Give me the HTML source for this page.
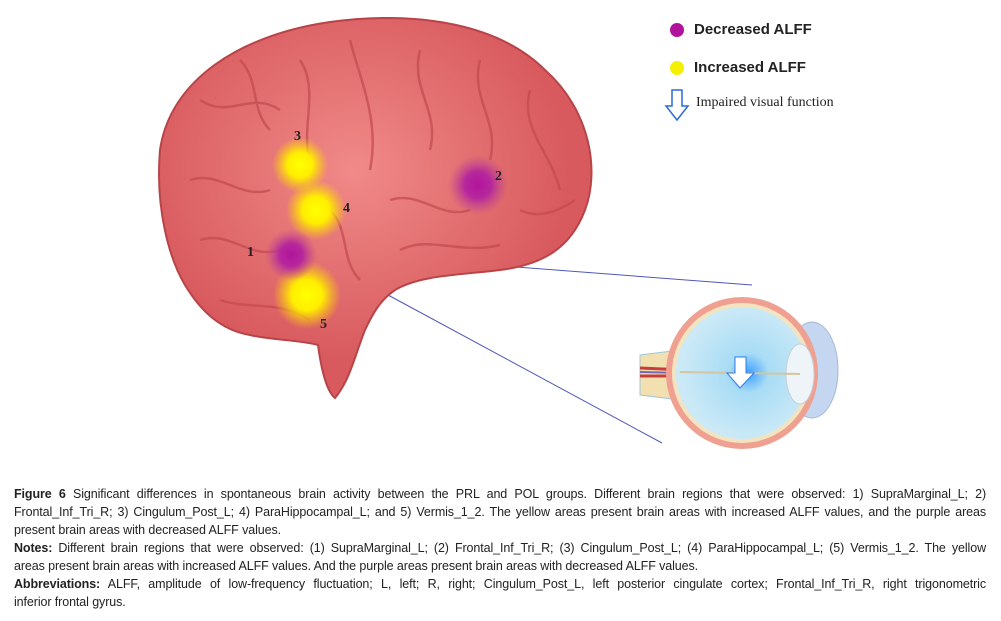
<!DOCTYPE html>
<html><head><meta charset="utf-8"><style>
body{margin:0;width:1001px;height:621px;background:#fff;position:relative;overflow:hidden;font-family:"Liberation Sans",sans-serif}
.cap{position:absolute;left:14px;width:972px;font-size:12.5px;line-height:18px;color:#222;letter-spacing:-0.1px}
.cap div{white-space:nowrap;text-align:justify;text-align-last:justify}
.cap div.l{text-align-last:left}
.lg{position:absolute;font-weight:bold;font-size:15px;color:#222}
</style></head><body>
<svg width="1001" height="480" style="position:absolute;left:0;top:0">
<defs>
<radialGradient id="y"><stop offset="0" stop-color="#ffff00"/><stop offset=".45" stop-color="#ffee00"/><stop offset="1" stop-color="#ffd400" stop-opacity="0"/></radialGradient>
<radialGradient id="p"><stop offset="0" stop-color="#b0149c"/><stop offset=".45" stop-color="#b7289c"/><stop offset="1" stop-color="#c04890" stop-opacity="0"/></radialGradient>
<radialGradient id="eye" cx=".55" cy=".5"><stop offset="0" stop-color="#3ea0ff"/><stop offset=".3" stop-color="#a8dcf5"/><stop offset="1" stop-color="#cbe9f6"/></radialGradient>
<radialGradient id="br" cx=".45" cy=".4"><stop offset="0" stop-color="#f08a88"/><stop offset="1" stop-color="#d85a5e"/></radialGradient>
</defs>
<line x1="490" y1="265" x2="752" y2="285" stroke="#5058b8" stroke-width="1"/>
<line x1="388" y1="295" x2="662" y2="443" stroke="#5058b8" stroke-width="1"/>
<path d="M160,150 C170,80 240,35 330,22 C420,10 500,25 545,70 C590,110 600,170 585,210 C570,250 540,265 500,270 C460,275 420,275 395,290 C380,300 372,315 365,330 C355,355 350,380 335,398 C325,390 320,360 318,345 C300,340 270,340 250,335 C220,330 200,310 185,285 C170,260 155,210 160,150 Z" fill="url(#br)" stroke="#b84448" stroke-width="2"/>
<g fill="none" stroke="#c24a50" stroke-width="2.5" opacity=".7">
<path d="M200,100 C230,120 250,90 280,110"/><path d="M300,60 C320,90 300,130 310,160"/><path d="M350,40 C360,80 380,120 370,170"/>
<path d="M420,50 C410,90 440,110 430,150"/><path d="M480,60 C470,100 500,120 490,160"/><path d="M530,90 C520,130 550,150 560,190"/>
<path d="M190,180 C220,170 240,200 270,190"/><path d="M200,240 C230,230 250,260 280,250"/><path d="M390,200 C420,190 440,220 470,210"/>
<path d="M400,250 C430,235 460,255 500,245"/><path d="M240,60 C260,80 250,110 270,130"/><path d="M330,210 C350,230 340,260 360,280"/>
<path d="M220,300 C250,310 280,300 310,320"/><path d="M520,210 C540,220 560,210 575,200"/>
</g>
<circle cx="300" cy="165" r="28" fill="url(#y)"/>
<circle cx="316" cy="210" r="30" fill="url(#y)"/>
<circle cx="307" cy="295" r="34" fill="url(#y)"/>
<circle cx="291" cy="255" r="26" fill="url(#p)"/>
<circle cx="478" cy="185" r="30" fill="url(#p)"/>
<g font-family="Liberation Serif,serif" font-weight="bold" font-size="14" fill="#222">
<text x="294" y="140">3</text><text x="343" y="212">4</text><text x="247" y="256">1</text><text x="495" y="180">2</text><text x="320" y="328">5</text></g>
<path d="M640,355 L680,350 L680,400 L640,395 Z" fill="#f3e0b0" stroke="#a0c8dc"/>
<path d="M640,368 L685,370 M640,376 L685,376" stroke="#c83c3c" stroke-width="3"/>
<path d="M640,372 L685,373" stroke="#7068b8" stroke-width="2"/>
<ellipse cx="812" cy="370" rx="26" ry="48" fill="#c4d6f0" stroke="#a8b8d8"/>
<circle cx="742" cy="373" r="76" fill="#f0a090"/>
<circle cx="742" cy="373" r="70" fill="#f2e4c0"/>
<circle cx="742" cy="373" r="66" fill="url(#eye)"/>
<ellipse cx="800" cy="374" rx="14" ry="30" fill="#eef4f8" stroke="#c0d0dc"/>
<path d="M680,372 L800,374" stroke="#d4c4a0" stroke-width="2"/>
<path d="M735,357 L746,357 L746,373 L754,373 L740,388 L727,373 L735,373 Z" fill="#fff" stroke="#2a7af0"/>
<circle cx="677" cy="30" r="7" fill="#b0149c"/>
<circle cx="677" cy="68" r="7" fill="#f5f000"/>
<path d="M672,90 L682,90 L682,106 L688,106 L677,120 L666,106 L672,106 Z" fill="none" stroke="#2a6ad8" stroke-width="1.5"/>
</svg>
<div class="lg" style="left:694px;top:21px">Decreased ALFF</div>
<div class="lg" style="left:694px;top:59px">Increased ALFF</div>
<div style="position:absolute;left:696px;top:95px;font-family:'Liberation Serif',serif;font-size:14px;color:#222">Impaired visual function</div>
<div class="cap" style="top:485px">
<div><b>Figure 6</b> Significant differences in spontaneous brain activity between the PRL and POL groups. Different brain regions that were observed: 1) SupraMarginal_L; 2)</div>
<div>Frontal_Inf_Tri_R; 3) Cingulum_Post_L; 4) ParaHippocampal_L; and 5) Vermis_1_2. The yellow areas present brain areas with increased ALFF values, and the purple areas</div>
<div class="l">present brain areas with decreased ALFF values.</div>
<div><b>Notes:</b> Different brain regions that were observed: (1) SupraMarginal_L; (2) Frontal_Inf_Tri_R; (3) Cingulum_Post_L; (4) ParaHippocampal_L; (5) Vermis_1_2. The yellow</div>
<div class="l">areas present brain areas with increased ALFF values. And the purple areas present brain areas with decreased ALFF values.</div>
<div><b>Abbreviations:</b> ALFF, amplitude of low-frequency fluctuation; L, left; R, right; Cingulum_Post_L, left posterior cingulate cortex; Frontal_Inf_Tri_R, right trigonometric</div>
<div class="l">inferior frontal gyrus.</div>
</div>
</body></html>
